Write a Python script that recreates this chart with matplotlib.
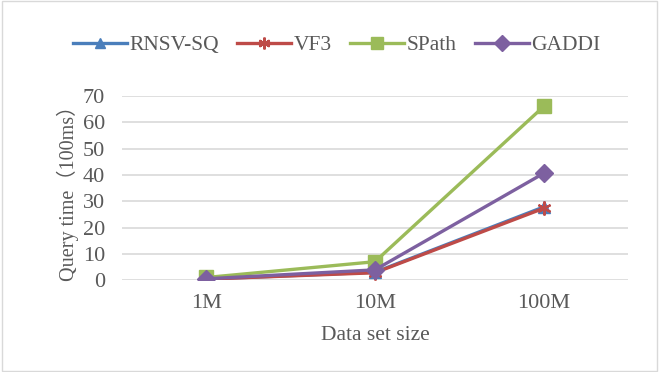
import matplotlib
matplotlib.use("Agg")
import matplotlib.pyplot as plt
from matplotlib.patches import Rectangle

categories = ["1M", "10M", "100M"]
rnsv = [0.4, 3.0, 27.8]
vf3 = [0.4, 2.8, 27.3]
spath = [1.0, 7.0, 66.0]
gaddi = [0.5, 3.9, 40.6]
yticks = [0, 10, 20, 30, 40, 50, 60, 70]

plt.rcParams['font.family'] = ['Liberation Serif', 'Noto Sans CJK SC', 'DejaVu Sans']
txt = '#595959'

fig = plt.figure(figsize=(6.59, 3.72), dpi=100)
ax = fig.add_axes([0.185, 0.247, 0.768, 0.495])
x = list(range(len(categories)))
lw = 2.4
ax.plot(x, rnsv, color='#4A7EBB', lw=lw, marker='^', ms=9, label='RNSV-SQ')
ax.plot(x, vf3, color='#BE4B48', lw=lw, marker=(6, 2, 0), ms=10, mew=1.6, label='VF3')
ax.plot(x, spath, color='#9BBB59', lw=lw, marker='s', ms=10.5, label='SPath')
ax.plot(x, gaddi, color='#7D60A0', lw=lw, marker='D', ms=9, label='GADDI')

ax.set_xlim(-0.5, 2.5)
ax.set_ylim(0, 70)
ax.set_yticks(yticks)
ax.set_xticks(x)
ax.set_xticklabels(categories)
ax.grid(axis='y', color='#D9D9D9', lw=1.2)
ax.set_axisbelow(True)
for s in ax.spines.values():
    s.set_visible(False)
ax.tick_params(axis='both', length=0, labelsize=16, colors=txt)
ax.tick_params(axis='x', pad=10)
ax.tick_params(axis='y', pad=12)
ax.set_xlabel('Data set size', fontsize=15.5, color=txt, labelpad=9)
ax.set_ylabel('Query time（100ms）', fontsize=14.5, color=txt, labelpad=3)

leg = fig.legend(loc='center', bbox_to_anchor=(0.511, 0.879), ncol=4, frameon=False,
                 fontsize=15.5, handlelength=2.5, columnspacing=0.85, handletextpad=0.12,
                 markerscale=0.85)
for t in leg.get_texts():
    t.set_color(txt)

fig.patches.append(Rectangle((0.003, 0.003), 0.994, 0.994, transform=fig.transFigure,
                             fill=False, edgecolor='#D9D9D9', lw=1))
fig.savefig('out.png', dpi=100)
